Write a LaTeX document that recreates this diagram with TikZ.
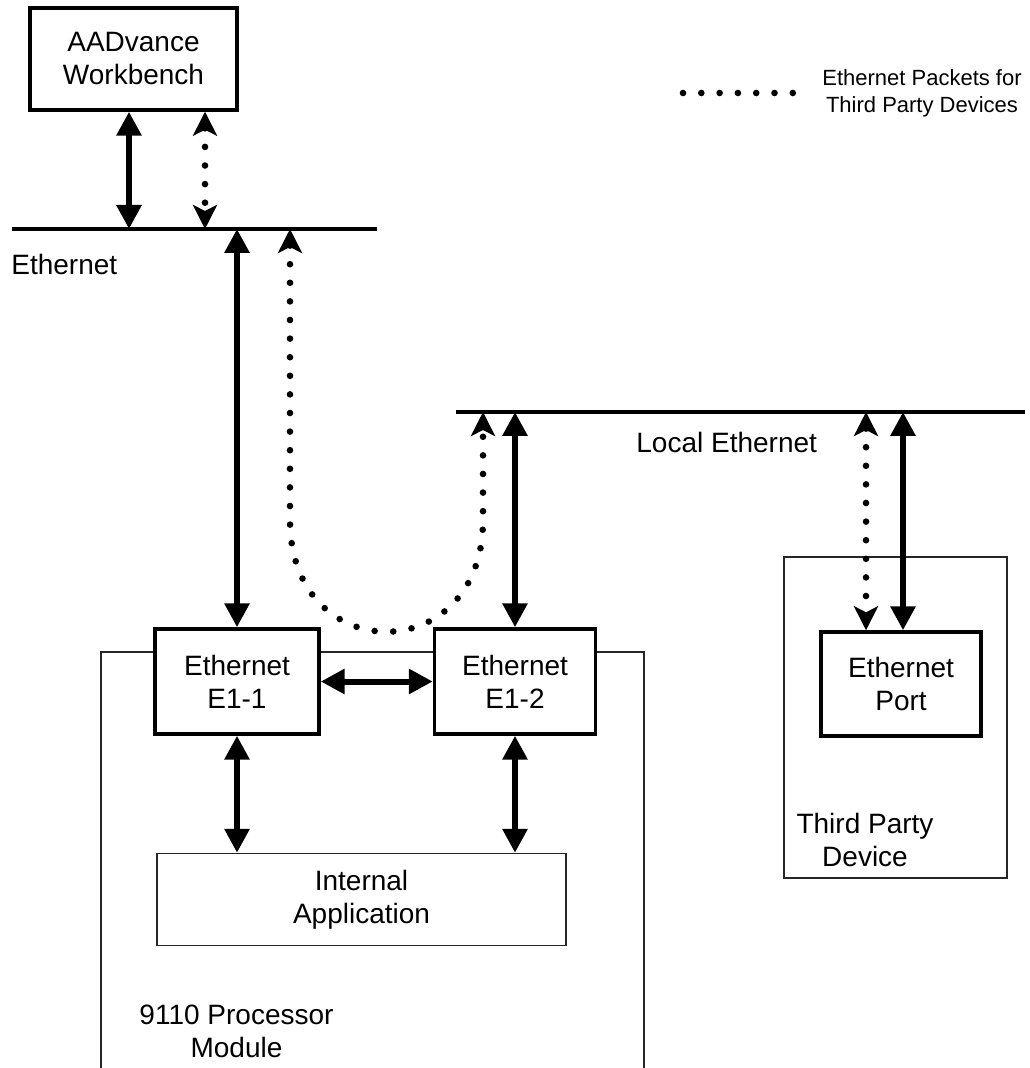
\documentclass[tikz,border=0pt]{standalone}
\usepackage{fontspec}
\setmainfont{Liberation Sans}
\usetikzlibrary{arrows.meta}

\begin{document}
\begin{tikzpicture}[x=0.5pt,y=-0.5pt,
        every node/.style={font=\fontsize{14}{16.5}\selectfont,align=center,inner sep=0pt},
        unit/.style={draw,line width=1.7pt,fill=white},
        frame/.style={draw=black!85,line width=0.7pt},
        bus/.style={line width=1.6pt},
        link/.style={line width=3pt,{Triangle[length=12pt,width=12pt]}-{Triangle[length=12pt,width=12pt]}},
        pkt/.style={line width=3.3pt,line cap=round,dash pattern=on 0pt off 9.3pt,
          {Stealth[length=12pt,width=12pt,inset=3pt]}-{Stealth[length=12pt,width=12pt,inset=3pt]}},
        dots/.style={line width=3.3pt,line cap=round,dash pattern=on 0pt off 9.15pt}
      ]
      \useasboundingbox (0,0) rectangle (1029,1068);

      % the frames
      \draw[frame] (101,1075) |- (644,652) -- (644,1075);
      \node[frame,minimum width=111.5pt,minimum height=160.5pt] (tpd) at (895.5,717.5) {};
      \node (tpdtext) at (865,840) {Third Party\\Device};
      \node (cpu) at (236.5,1031.5) {9110 Processor\\Module};

      % the units
      \node[unit,minimum width=103.5pt,minimum height=51pt] (wb) at (133.5,59) {AADvance\\Workbench};
      \node[unit,minimum width=82pt,minimum height=52.5pt] (e11) at (237,681.5) {Ethernet\\E1-1};
      \node[unit,minimum width=80.5pt,minimum height=52.5pt] (e12) at (515,681.5) {Ethernet\\E1-2};
      \node[unit,minimum width=80pt,minimum height=52pt] (port) at (901,684) {Ethernet\\Port};
      \node[frame,fill=white,minimum width=204.5pt,minimum height=46pt] (app) at (361.5,899.5) {Internal\\Application};

      % the networks
      \coordinate (ethw) at (12,229);  \coordinate (ethe) at (377,229);
      \coordinate (locw) at (456,412); \coordinate (loce) at (1025,412);
      \draw[bus] (ethw) -- (ethe);
      \draw[bus] (locw) -- (loce);
      \node[anchor=west] (ethtext) at (11,264) {Ethernet};
      \node[anchor=west] (loctext) at (636,442) {Local Ethernet};

      % the taps
      \coordinate (ta) at (129,229); \coordinate (tb) at (205,229);
      \coordinate (tc) at (237,229); \coordinate (td) at (290,229);
      \coordinate (te) at (483,412); \coordinate (tf) at (515,412);
      \coordinate (tg) at (866,412); \coordinate (th) at (903,412);

      % the links
      \draw[link] (ta |- wb.south) -- (ta);
      \draw[pkt] (tb |- wb.south) -- (tb);
      \draw[link] (tc) -- (e11.north);
      \draw[pkt] (td) -- (290,520) .. controls (290,669) and (483,669) .. (483,520) -- (te);
      \draw[link] (tf) -- (e12.north);
      \draw[link] (e11.east) -- (e12.west);
      \draw[link] (e11.south) -- (e11.south |- app.north);
      \draw[link] (e12.south) -- (e12.south |- app.north);
      \draw[pkt] (tg) -- (tg |- port.north);
      \draw[link] (th) -- (th |- port.north);

      % the key
      \coordinate (key) at (683,93);
      \draw[dots] (key) -- ++(110.5,0);
      \node[font=\fontsize{11}{13.5}\selectfont] (legend) at (922,93.5) {Ethernet Packets for\\Third Party Devices};
\end{tikzpicture}
\end{document}
